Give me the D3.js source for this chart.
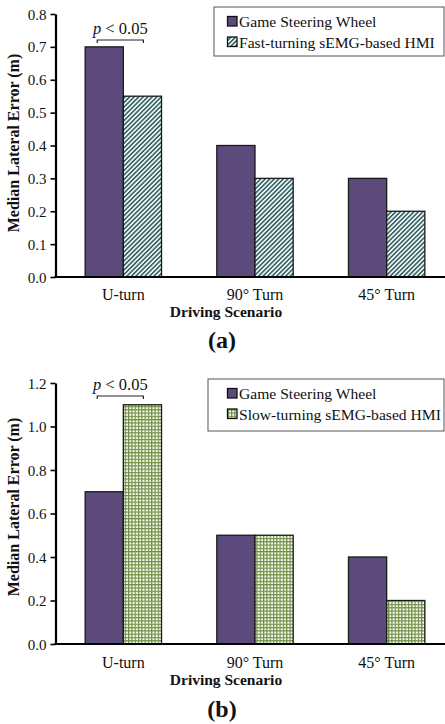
<!DOCTYPE html>
<html><head><meta charset="utf-8">
<script src="https://cdn.jsdelivr.net/npm/d3@7"></script>
<style>body{margin:0;background:#fff}svg{display:block}text{font-family:"Liberation Serif","Times New Roman",serif;fill:#111}</style>
</head><body><svg id="c" width="445" height="724"></svg>
<script>
const categories = ["U-turn", "90° Turn", "45° Turn"];
const seriesA = ["Game Steering Wheel", "Fast-turning sEMG-based HMI"];
const valuesA_wheel = [0.7, 0.4, 0.3];
const valuesA_hmi = [0.55, 0.3, 0.2];
const ticksA = [0, 0.1, 0.2, 0.3, 0.4, 0.5, 0.6, 0.7, 0.8];
const seriesB = ["Game Steering Wheel", "Slow-turning sEMG-based HMI"];
const valuesB_wheel = [0.7, 0.5, 0.4];
const valuesB_hmi = [1.1, 0.5, 0.2];
const ticksB = [0, 0.2, 0.4, 0.6, 0.8, 1.0, 1.2];

const svg = d3.select("#c");
const defs = svg.append("defs");
const ph = defs.append("pattern").attr("id","hatch").attr("patternUnits","userSpaceOnUse")
  .attr("width",3.2).attr("height",3.2).attr("patternTransform","rotate(45)");
ph.append("rect").attr("width",3.2).attr("height",3.2).attr("fill","#eef6f6");
ph.append("rect").attr("width",1.5).attr("height",3.2).attr("fill","#2f5b5c");
const pc = defs.append("pattern").attr("id","check").attr("patternUnits","userSpaceOnUse")
  .attr("width",3.3).attr("height",3.3);
pc.append("rect").attr("width",3.3).attr("height",3.3).attr("fill","#fbfdf4");
pc.append("rect").attr("width",3.3).attr("height",1.2).attr("fill","#6f8f45");
pc.append("rect").attr("width",1.2).attr("height",3.3).attr("fill","#6f8f45");

const purple = "#5d4a7c";

function chart(cfg){
  const g = svg.append("g");
  const y = d3.scaleLinear().domain(cfg.domain).range([cfg.y0, cfg.y1]);
  const x = d3.scaleBand().domain(categories).range([57.5, 452.5]).paddingInner(0.42).paddingOuter(0.21);
  const xs = d3.scaleBand().domain([0,1]).range([0, x.bandwidth()]);
  const data = categories.map((c,i)=>({c, v:[cfg.v0[i], cfg.v1[i]]}));
  const grp = g.selectAll("g.cat").data(data).join("g").attr("transform", d=>`translate(${x(d.c)},0)`);
  grp.selectAll("rect").data(d=>d.v.map((v,k)=>({v,k}))).join("rect")
    .attr("x", d=>xs(d.k)).attr("width", xs.bandwidth())
    .attr("y", d=>y(d.v)).attr("height", d=>y(0)-y(d.v))
    .attr("fill", d=>d.k===0?purple:`url(#${cfg.pat})`)
    .attr("stroke","#1a1a1a").attr("stroke-width",1.3);
  const ax = g.append("g").attr("transform","translate(55.5,0)")
    .call(d3.axisLeft(y).tickValues(cfg.ticks).tickFormat(d3.format(".1f")).tickSize(5).tickSizeOuter(0));
  ax.select(".domain").attr("stroke","#000").attr("stroke-width",2.2);
  ax.selectAll(".tick line").attr("stroke","#000").attr("stroke-width",1.6);
  ax.selectAll(".tick text").attr("x",-9).attr("dy","0.34em").style("font-size","15px").style("font-family","Liberation Serif").attr("fill","#222");
  g.append("line").attr("x1",54.5).attr("x2",445).attr("y1",y(0)).attr("y2",y(0)).attr("stroke","#000").attr("stroke-width",2.2);
  g.selectAll("text.cl").data(categories).join("text").attr("class","cl")
    .attr("x", d=>x(d)+x.bandwidth()/2).attr("y", cfg.catY).attr("text-anchor","middle")
    .style("font-size","16px").text(d=>d);
  g.append("text").attr("x",226).attr("y",cfg.catY+16.5).attr("text-anchor","middle")
    .style("font-size","15.5px").style("font-weight","bold").text("Driving Scenario");
  g.append("text").attr("x",222).attr("y",cfg.capY).attr("text-anchor","middle")
    .style("font-size","24px").style("font-weight","bold").text(cfg.cap);
  g.append("text").attr("transform",`translate(19,${cfg.labY}) rotate(-90)`).attr("text-anchor","middle")
    .style("font-size","16px").style("font-weight","bold").text("Median Lateral Error (m)");
  const bx0 = x(categories[0]) + xs(0) + xs.bandwidth()/2 - 7, bx1 = x(categories[0]) + xs(1) + xs.bandwidth()/2 + 1;
  g.append("path").attr("d",`M${bx0},${cfg.brY+3}V${cfg.brY}H${bx1}V${cfg.brY+3}`).attr("fill","none").attr("stroke","#222").attr("stroke-width",1.2);
  const t = g.append("text").attr("x",(bx0+bx1)/2).attr("y",cfg.brY-6).attr("text-anchor","middle").style("font-size","16.5px");
  t.append("tspan").style("font-style","italic").text("p");
  t.append("tspan").text(" < 0.05");
  const L = cfg.leg;
  g.append("rect").attr("x",L.x).attr("y",L.y).attr("width",444-L.x).attr("height",L.h)
    .attr("fill","#fff").attr("stroke","#555").attr("stroke-width",1);
  cfg.series.forEach((s,k)=>{
    const by = L.y + 20 + k*20.5;
    g.append("rect").attr("x",227.5).attr("y",by-10.5).attr("width",9.5).attr("height",9.5)
      .attr("fill", k===0?purple:`url(#${cfg.pat})`).attr("stroke","#111").attr("stroke-width",1.3);
    g.append("text").attr("x",239).attr("y",by).style("font-size","15.6px").text(s);
  });
}

chart({domain:[0,0.8], y0:277, y1:14, v0:valuesA_wheel, v1:valuesA_hmi, ticks:ticksA, pat:"hatch",
  catY:300, capY:348, cap:"(a)", labY:143, brY:40, series:seriesA, leg:{x:214, y:7, h:49}});
chart({domain:[0,1.2], y0:644, y1:383, v0:valuesB_wheel, v1:valuesB_hmi, ticks:ticksB, pat:"check",
  catY:668, capY:717, cap:"(b)", labY:507, brY:396, series:seriesB, leg:{x:208, y:379, h:52}});
</script></body></html>
